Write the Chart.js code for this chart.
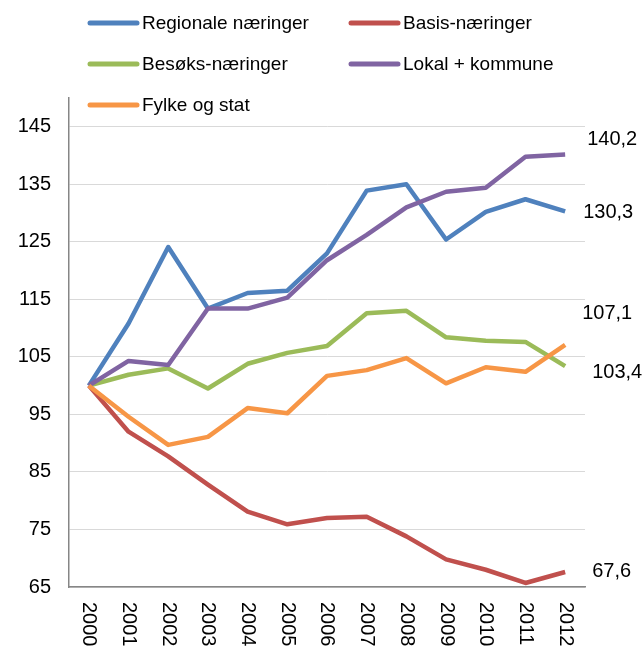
<!DOCTYPE html>
<html>
<head>
<meta charset="utf-8">
<script src="https://cdn.jsdelivr.net/npm/chart.js@4/dist/chart.umd.min.js"></script>
<style>
    body { margin: 0; background: #fff; }
    canvas { display: block; }
</style>
</head>
<body>
<canvas id="growthChart" width="644" height="648"></canvas>
<script>
const years = ['2000', '2001', '2002', '2003', '2004', '2005', '2006', '2007', '2008', '2009', '2010', '2011', '2012'];
const yTicks = [65, 75, 85, 95, 105, 115, 125, 135, 145];

const regionale = [100, 110.8, 124.1, 113.4, 116.1, 116.5, 123.0, 133.9, 135.0, 125.4, 130.2, 132.4, 130.3];
const basis = [100, 92.0, 87.7, 82.8, 78.1, 75.9, 77.0, 77.2, 73.8, 69.8, 68.0, 65.7, 67.6];
const besoks = [100, 101.9, 103.0, 99.5, 103.8, 105.7, 106.9, 112.6, 113.0, 108.4, 107.8, 107.6, 103.4];
const lokal = [100, 104.3, 103.6, 113.4, 113.4, 115.3, 121.8, 126.2, 131.0, 133.7, 134.4, 139.8, 140.2];
const fylke = [100, 94.6, 89.7, 91.1, 96.1, 95.2, 101.7, 102.7, 104.8, 100.4, 103.2, 102.4, 107.1];

const seriesNames = ['Regionale næringer', 'Basis-næringer', 'Besøks-næringer', 'Lokal + kommune', 'Fylke og stat'];
const seriesColors = ['#4F81BD', '#C0504D', '#9BBB59', '#8064A2', '#F79646'];

// where the end-of-line value sits, relative to the last point (px)
const endLabelShift = [[18, 1], [27, -1], [27, 6], [22, -15], [17, -31]];

const FONT = "'Liberation Sans', Arial, sans-serif";

const customDraw = {
    id: 'customDraw',
    afterDraw(chart) {
        const ctx = chart.ctx;
        const xScale = chart.scales.x;

        // x labels, rotated to read top-down
        ctx.save();
        ctx.fillStyle = '#000';
        ctx.font = '20px ' + FONT;
        ctx.textAlign = 'left';
        ctx.textBaseline = 'middle';
        years.forEach((label, i) => {
            const x = xScale.getPixelForTick(i);
            ctx.save();
            ctx.translate(x, xScale.top + 15);
            ctx.rotate(Math.PI / 2);
            ctx.fillText(label, 0, 0);
            ctx.restore();
        });
        ctx.restore();

        // values at the end of each line
        ctx.save();
        ctx.fillStyle = '#000';
        ctx.font = '20px ' + FONT;
        ctx.textAlign = 'left';
        ctx.textBaseline = 'middle';
        chart.data.datasets.forEach((ds, i) => {
            const meta = chart.getDatasetMeta(i);
            const last = meta.data[meta.data.length - 1];
            const value = ds.data[ds.data.length - 1];
            const shift = endLabelShift[i];
            ctx.fillText(value.toFixed(1).replace('.', ','), last.x + shift[0], last.y + shift[1]);
        });
        ctx.restore();

        // legend, two columns
        ctx.save();
        ctx.font = '19px ' + FONT;
        ctx.textAlign = 'left';
        ctx.textBaseline = 'middle';
        ctx.lineCap = 'round';
        ctx.lineWidth = 5;
        chart.data.datasets.forEach((ds, i) => {
            const col = i % 2;
            const row = Math.floor(i / 2);
            const x0 = col === 0 ? 90 : 351;
            const y0 = 23 + row * 41;
            ctx.strokeStyle = ds.borderColor;
            ctx.beginPath();
            ctx.moveTo(x0, y0);
            ctx.lineTo(x0 + 47, y0);
            ctx.stroke();
            ctx.fillStyle = '#000';
            ctx.fillText(ds.label, x0 + 52, y0 + 1);
        });
        ctx.restore();
    }
};

const datasets = [regionale, basis, besoks, lokal, fylke].map((values, i) => ({
    label: seriesNames[i],
    data: values,
    borderColor: seriesColors[i],
    backgroundColor: seriesColors[i],
    borderWidth: 4.5,
    pointRadius: 0,
    tension: 0,
    borderJoinStyle: 'round',
    order: 5 - i // later series on top, like the original
}));

const ctx = document.getElementById('growthChart').getContext('2d');

new Chart(ctx, {
    type: 'line',
    data: {
        labels: years,
        datasets
    },
    options: {
        responsive: false,
        animation: false,
        layout: {
            padding: { top: 98, right: 59, left: 0, bottom: 0 }
        },
        scales: {
            y: {
                min: 65,
                max: 150,
                afterBuildTicks: (axis) => {
                    axis.ticks = yTicks.map(v => ({ value: v }));
                },
                afterFit: (axis) => { axis.width = 69; },
                ticks: {
                    color: '#000',
                    padding: 18,
                    font: { family: FONT, size: 20 }
                },
                grid: {
                    color: '#D9D9D9',
                    lineWidth: 1,
                    drawTicks: false
                },
                border: {
                    display: true,
                    color: '#868686',
                    width: 1.5
                }
            },
            x: {
                offset: true,
                afterFit: (axis) => { axis.height = 61; },
                ticks: { display: false },
                grid: { display: false, drawTicks: false },
                border: {
                    display: true,
                    color: '#868686',
                    width: 1.5
                }
            }
        },
        plugins: {
            legend: { display: false },
            tooltip: { enabled: false }
        }
    },
    plugins: [customDraw]
});
</script>
</body>
</html>
